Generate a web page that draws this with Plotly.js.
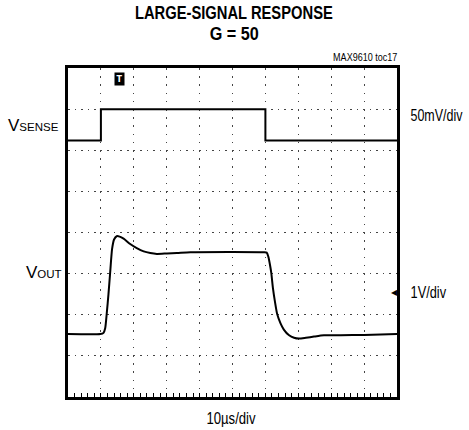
<!DOCTYPE html>
<html>
<head>
<meta charset="utf-8">
<script src="https://cdn.plot.ly/plotly-3.0.1.min.js"></script>
<style>html,body{margin:0;padding:0;background:#fff;}#chart{width:469px;height:430px;}</style>
</head>
<body>
<div id="chart"></div>
<script>
// Time in divisions (10 µs/div), amplitude in divisions from screen centre
const senseT = [0, 1, 1, 6, 6, 10];
const senseY = [2.24, 2.24, 3.0, 3.0, 2.24, 2.24];

const outT = [0, 0.98, 1.08, 1.13, 1.18, 1.23, 1.28, 1.34, 1.40, 1.48, 1.57, 1.69, 1.89, 2.09, 2.30, 2.50, 2.70, 3.01, 3.31, 3.72, 5.95,
              6.04, 6.09, 6.14, 6.18, 6.23, 6.29, 6.36, 6.46, 6.56, 6.72, 6.87, 7.02, 7.23, 7.48, 7.78, 8.29, 9.0, 10];
const outY = [-2.47, -2.47, -2.44, -2.33, -1.95, -1.5, -0.99, -0.40, -0.17, -0.09, -0.10, -0.15, -0.28, -0.38, -0.46, -0.50, -0.52, -0.51, -0.50, -0.48, -0.48,
              -0.49, -0.59, -0.79, -0.99, -1.36, -1.68, -1.99, -2.21, -2.36, -2.50, -2.56, -2.58, -2.56, -2.53, -2.50, -2.50, -2.49, -2.47];

const FONT = "'Liberation Sans', Arial, sans-serif";

const traces = [
  {x: senseT, y: senseY, mode: 'lines', line: {color: '#000', width: 2, shape: 'linear'}, hoverinfo: 'skip'},
  {x: outT, y: outY, mode: 'lines', line: {color: '#000', width: 2, shape: 'spline', smoothing: 0.6}, hoverinfo: 'skip'}
];

const centreAxis = {
  overlaying: 'x', anchor: 'free', position: 0.5, range: [0, 10], showline: true, linecolor: '#333', linewidth: 1,
  ticks: 'outside', ticklen: 3, tickwidth: 1, tickcolor: '#333', dtick: 0.2, tick0: 0, showticklabels: false,
  showgrid: false, zeroline: false, fixedrange: true
};
const centreYAxis = {
  overlaying: 'y', anchor: 'free', position: 0.5, range: [-4, 4], showline: true, linecolor: '#333', linewidth: 1,
  ticks: 'outside', ticklen: 3, tickwidth: 1, tickcolor: '#333', dtick: 0.2, tick0: 0, showticklabels: false,
  showgrid: false, zeroline: false, fixedrange: true
};

// horizontal condensing per annotation (mimics the narrow typeface of the original)
const condense = [0.82, 0.9, 0.82, null, null, 0.78, 0.8, null, 0.82, null];

const layout = {
  width: 469, height: 430,
  margin: {l: 68, r: 72, t: 68, b: 33},
  paper_bgcolor: '#fff', plot_bgcolor: '#fff',
  showlegend: false,
  font: {family: FONT, color: '#000', size: 15},
  xaxis: {
    range: [0, 10], dtick: 1, tick0: 0, showgrid: true, gridcolor: '#444', gridwidth: 1, griddash: '1.5px,6.7px',
    zeroline: false, showline: true, linecolor: '#000', linewidth: 3, mirror: true,
    ticks: 'inside', ticklen: 4, tickcolor: '#000', showticklabels: false,
    minor: {dtick: 0.2, ticks: 'inside', ticklen: 4, tickcolor: '#000', showgrid: false},
    fixedrange: true
  },
  yaxis: {
    range: [-4, 4], dtick: 1, tick0: 0, showgrid: true, gridcolor: '#444', gridwidth: 1, griddash: '1.5px,5.06px',
    zeroline: false, showline: true, linecolor: '#000', linewidth: 3, mirror: true,
    ticks: '', showticklabels: false, fixedrange: true
  },
  xaxis2: Object.assign({}, centreAxis, {side: 'bottom'}),
  xaxis3: Object.assign({}, centreAxis, {side: 'top'}),
  yaxis2: Object.assign({}, centreYAxis, {side: 'left'}),
  yaxis3: Object.assign({}, centreYAxis, {side: 'right'}),
  annotations: [
    {text: '<b>LARGE-SIGNAL RESPONSE</b>', xref: 'paper', yref: 'paper', x: 0.505, y: 1.168, showarrow: false, font: {size: 18, family: FONT}, xanchor: 'center', yanchor: 'middle'},
    {text: '<b>G = 50</b>', xref: 'paper', yref: 'paper', x: 0.505, y: 1.103, showarrow: false, font: {size: 18, family: FONT}, xanchor: 'center', yanchor: 'middle'},
    {text: 'MAX9610 toc17', xref: 'paper', yref: 'paper', x: 0.903, y: 1.033, showarrow: false, font: {size: 11, family: FONT}, xanchor: 'center', yanchor: 'middle'},
    {text: "V<span style='font-size:11.5px'>SENSE</span>", xref: 'paper', yref: 'paper', x: -0.188, y: 0.825, showarrow: false, font: {size: 17, family: FONT}, xanchor: 'left', yanchor: 'middle'},
    {text: "V<span style='font-size:11.5px'>OUT</span>", xref: 'paper', yref: 'paper', x: -0.134, y: 0.378, showarrow: false, font: {size: 17, family: FONT}, xanchor: 'left', yanchor: 'middle'},
    {text: '50mV/div', xref: 'paper', yref: 'paper', x: 1.12, y: 0.855, showarrow: false, font: {size: 16, family: FONT}, xanchor: 'center', yanchor: 'middle'},
    {text: '1V/div', xref: 'paper', yref: 'paper', x: 1.094, y: 0.319, showarrow: false, font: {size: 16, family: FONT}, xanchor: 'center', yanchor: 'middle'},
    {text: '◀', xref: 'paper', yref: 'paper', x: 1.008, y: 0.319, showarrow: false, font: {size: 8, family: 'DejaVu Sans'}, xanchor: 'right', yanchor: 'middle'},
    {text: '10µs/div', xref: 'paper', yref: 'paper', x: 0.495, y: -0.065, showarrow: false, font: {size: 16, family: FONT}, xanchor: 'center', yanchor: 'middle'},
    {text: '<b>T</b>', xref: 'paper', yref: 'paper', x: 0.158, y: 0.967, showarrow: false, font: {size: 8, family: 'DejaVu Sans', color: '#fff'}, bgcolor: '#000', borderpad: 1.5, xanchor: 'center', yanchor: 'middle'}
  ]
};

Plotly.newPlot('chart', traces, layout, {staticPlot: true, displayModeBar: false}).then(function (gd) {
  gd.querySelectorAll('g.annotation').forEach(function (g) {
    const i = +g.getAttribute('data-index');
    const s = condense[i];
    if (!s) return;
    const t = g.querySelector('text.annotation-text');
    if (!t) return;
    t.style.transformBox = 'fill-box';
    t.style.transformOrigin = 'center';
    t.style.transform = 'scaleX(' + s + ')';
  });
});
</script>
</body>
</html>
